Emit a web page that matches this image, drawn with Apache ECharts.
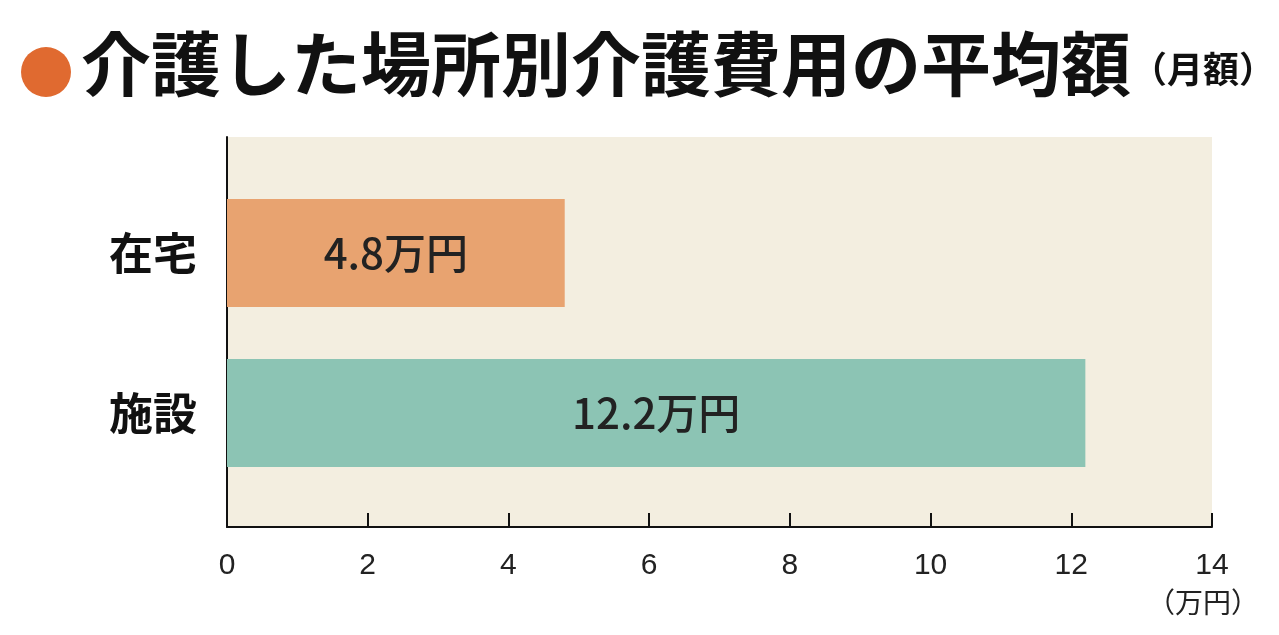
<!DOCTYPE html><html><head><meta charset="utf-8">
<script src="https://cdn.jsdelivr.net/npm/echarts@6/dist/echarts.min.js"></script>
<style>html,body{margin:0;background:#fff}#c{width:1279px;height:635px}</style></head><body><div id="c"></div>
<script>
const categories=['在宅','施設'];
const values=[4.8,12.2];
const colors=['#e8a370','#8cc4b4'];
const xTicks=[0,2,4,6,8,10,12,14];
const F='"Noto Sans CJK JP","Noto Sans",sans-serif';
const chart=echarts.init(document.getElementById('c'));
chart.setOption({
 animation:false,
 title:{text:'{b|介護した場所別介護費用の平均額}{s|（月額）}',left:76,top:24,
  textStyle:{rich:{b:{fontFamily:F,fontSize:70,fontWeight:'bold',color:'#111'},s:{fontFamily:F,fontSize:36,fontWeight:'bold',color:'#111',padding:[10,0,0,0]}}}},
 graphic:[{type:'circle',shape:{cx:46,cy:72,r:25},style:{fill:'#e06a30'}},
  {type:'text',right:20,top:588,style:{text:'（万円）',font:'28px '+F,fill:'#222'}}],
 grid:[{left:227,right:67,top:137,bottom:108,show:true,backgroundColor:'#f3eee0',borderWidth:0},
       {left:227,right:67,top:173,height:320}],
 xAxis:[{gridIndex:0,type:'value',min:0,max:14,interval:2,
   axisLine:{show:true,lineStyle:{color:'#111',width:2}},
   axisTick:{show:true,inside:true,length:14,lineStyle:{color:'#111',width:2}},
   axisLabel:{fontFamily:'"Liberation Sans",Arial,sans-serif',fontSize:30,color:'#222',margin:24,formatter:v=>xTicks.includes(v)?String(v):''},
   splitLine:{show:false}},
  {gridIndex:1,type:'value',min:0,max:14,show:false}],
 yAxis:[{gridIndex:0,type:'category',data:[''],axisLine:{show:true,lineStyle:{color:'#111',width:2}},axisTick:{show:false},axisLabel:{show:false}},
  {gridIndex:1,type:'category',inverse:true,data:categories,axisLine:{show:false},axisTick:{show:false},
   axisLabel:{fontFamily:F,fontSize:44,fontWeight:'bold',color:'#111',margin:30}}],
 series:[{type:'bar',xAxisIndex:1,yAxisIndex:1,barWidth:108,
   data:values.map((v,i)=>({value:v,itemStyle:{color:colors[i]}})),
   label:{show:true,position:'inside',formatter:p=>p.value+'万円',fontFamily:F,fontSize:42,fontWeight:500,color:'#222'}}]
});
</script></body></html>
